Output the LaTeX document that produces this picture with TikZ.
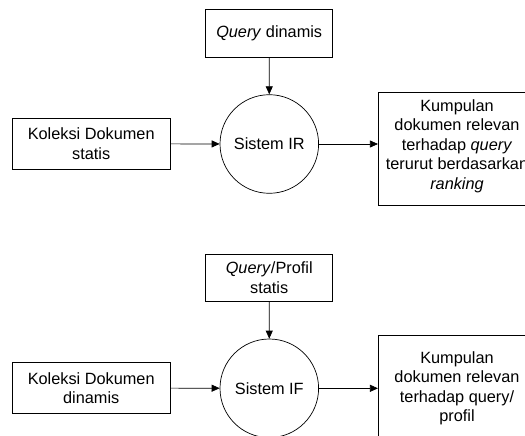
\documentclass[tikz,border=0pt]{standalone}
\usepackage{fontspec}
\setmainfont{Liberation Sans}
\usetikzlibrary{arrows.meta}
\begin{document}
\begin{tikzpicture}[x=1pt,y=-1pt,
  every node/.style={font=\fontsize{16.3}{19.5}\selectfont, align=center, inner sep=0pt},
  box/.style={draw, line width=0.7pt, rectangle},
  proc/.style={draw, line width=0.7pt, circle, minimum size=98.6pt},
  flow/.style={line width=0.7pt, -{Triangle[length=8pt,width=7pt]}}]
\clip (0,0) rectangle (525,436);
\fill[white] (0,0) rectangle (525,436);

% --- Information retrieval ---
\node[box, minimum width=127pt, minimum height=47.7pt] (q1) at (269.2,33.2) {\textit{Query} dinamis};
\node[box, minimum width=158.3pt, minimum height=51pt] (k1) at (91.2,143.8) {Koleksi Dokumen\\statis};
\node[proc] (s1) at (269.3,144) {Sistem IR};
\node[box, minimum width=152pt, minimum height=113.4pt] (o1) at (454.3,149) {};
\node (o1t) at (457,146) {Kumpulan\\dokumen relevan\\terhadap \textit{query}\\terurut berdasarkan\\\textit{ranking}};

\draw[flow] (q1) -- (s1);
\draw[flow] (k1) -- (s1);
\draw[flow] (s1.east) -- (s1.east -| o1.west);

% --- Information filtering ---
\node[box, minimum width=127pt, minimum height=47pt] (q2) at (269.2,277.5) {\textit{Query}/Profil\\statis};
\node[box, minimum width=158.3pt, minimum height=50.6pt] (k2) at (91.2,388) {Koleksi Dokumen\\dinamis};
\node[proc] (s2) at (269.3,388.3) {Sistem IF};
\node[box, minimum width=152pt, minimum height=113.4pt] (o2) at (454.3,391.7) {};
\node (o2t) at (457,388.5) {Kumpulan\\dokumen relevan\\terhadap query/\\profil};

\draw[flow] (q2) -- (s2);
\draw[flow] (k2) -- (s2);
\draw[flow] (s2.east) -- (s2.east -| o2.west);
\end{tikzpicture}
\end{document}
